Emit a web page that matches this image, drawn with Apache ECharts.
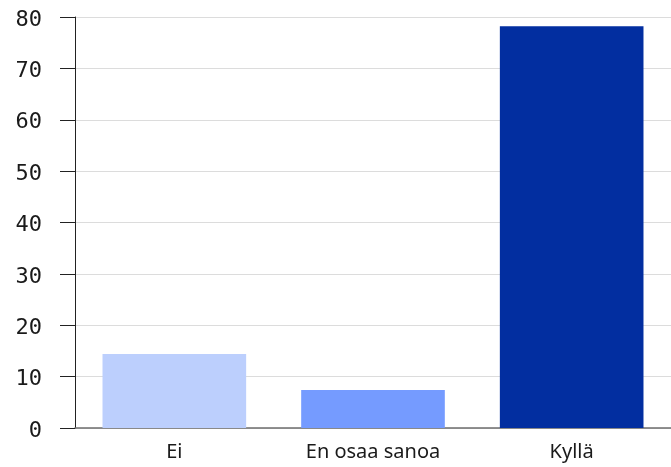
<!DOCTYPE html>
<html>
<head>
<meta charset="utf-8">
<script src="https://cdn.jsdelivr.net/npm/echarts@6/dist/echarts.min.js"></script>
<style>
html,body{margin:0;padding:0;background:#fff;}
#chart{width:671px;height:467px;}
</style>
</head>
<body>
<div id="chart"></div>
<script>
const categories = ['Ei', 'En osaa sanoa', 'Kyllä'];
const values = [14.4, 7.4, 78.2];
const barColors = ['#bccffd', '#759bff', '#022ea0'];
const yTicks = [0, 10, 20, 30, 40, 50, 60, 70, 80];

const chart = echarts.init(document.getElementById('chart'), null, {renderer: 'canvas'});
chart.setOption({
  animation: false,
  backgroundColor: '#ffffff',
  grid: {left: 75, width: 602, top: 17, bottom: 39, containLabel: false},
  xAxis: {
    type: 'category',
    data: categories,
    axisLine: {show: true, lineStyle: {color: '#6e6e6e', width: 1.5}},
    axisTick: {show: false},
    axisLabel: {color: '#1a1a1a', fontFamily: 'Noto Sans', fontSize: 20, margin: 14}
  },
  yAxis: {
    type: 'value',
    min: yTicks[0],
    max: yTicks[yTicks.length - 1],
    interval: 10,
    axisLine: {show: true, lineStyle: {color: '#222', width: 1}},
    axisTick: {show: true, inside: false, length: 15, lineStyle: {color: '#222', width: 1}},
    splitLine: {show: true, lineStyle: {color: '#dcdcdc', width: 1}},
    axisLabel: {color: '#1a1a1a', fontFamily: 'DejaVu Sans Mono', fontSize: 22, margin: 33, verticalAlign: 'top', lineHeight: 6}
  },
  series: [{
    type: 'bar',
    data: values.map((v, i) => ({value: v, itemStyle: {color: barColors[i]}})),
    barCategoryGap: '27.7%'
  }]
});
</script>
</body>
</html>
